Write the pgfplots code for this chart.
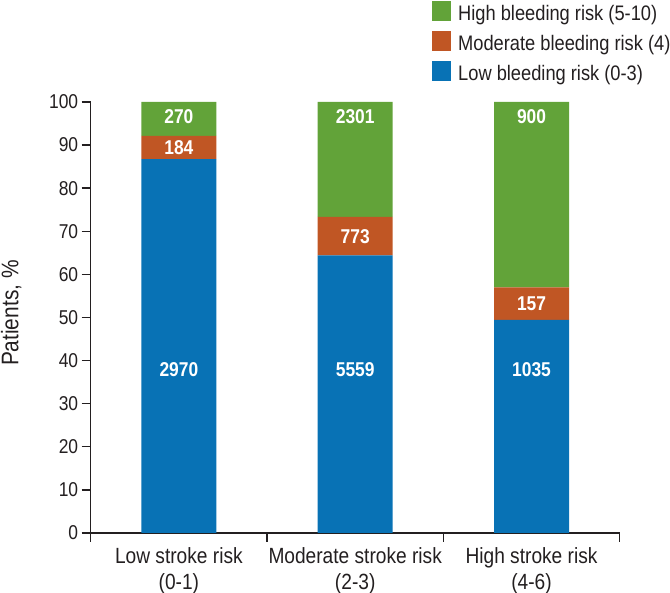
\documentclass[border=0pt]{standalone}
\usepackage{fontspec}
\setmainfont{Liberation Sans}[FakeStretch=0.87]
\usepackage{pgfplots}
\pgfplotsset{compat=1.18}
\definecolor{cgreen}{RGB}{98,163,57}
\definecolor{corange}{RGB}{192,86,36}
\definecolor{cblue}{RGB}{8,114,181}
\definecolor{ctext}{RGB}{35,31,32}
\begin{document}
\begin{tikzpicture}[x=1pt,y=1pt]
\useasboundingbox (-90.7,-60) rectangle (579.3,533);
\begin{axis}[
  at={(0,0)}, anchor=south west,
  width=529pt, height=431pt, scale only axis,
  ybar stacked, bar width=75pt,
  xmin=-0.5, xmax=2.5, ymin=0, ymax=100,
  axis lines*=left,
  axis line style={ctext, line width=1.4pt},
  xtick={-0.5,0.5,1.5,2.5},
  x tick label as interval,
  xticklabels={{Low stroke risk\\(0-1)},{Moderate stroke risk\\(2-3)},{High stroke risk\\(4-6)}},
  xticklabel style={align=center, font=\fontsize{22}{26}\selectfont, text=ctext, yshift=-2pt},
  ytick={0,10,...,100},
  major tick length=9pt,
  tick align=outside,
  tick style={ctext, line width=1.4pt},
  yticklabel style={font=\fontsize{20}{22}\selectfont, text=ctext},
  /pgf/number format/assume math mode=true,
  ylabel={Patients, \%},
  ylabel style={font=\fontsize{24}{26}\selectfont, text=ctext, at={(axis description cs:-0.1365,0.510)}, anchor=base},
  reverse legend,
  legend cell align=left,
  legend image code/.code={\fill[#1] (0pt,-7.5pt) rectangle (19.5pt,12pt);},
  legend style={at={(axis description cs:0.6446,1.2332)}, anchor=north west, draw=none, fill=none,
    inner sep=0pt, outer sep=0pt, font=\fontsize{21}{25}\selectfont, text=ctext,
    row sep=9.5pt, column sep=7pt, nodes={inner sep=0pt}},
  clip=false,
]
% percentages from counts: Low (2970,184,270), Moderate (5559,773,2301), High (1035,157,900)
\addplot[fill=cblue, draw=none] coordinates {(0,86.741) (1,64.393) (2,49.474)};
\addlegendentry{Low bleeding risk (0-3)}
\addplot[fill=corange, draw=none] coordinates {(0,5.374) (1,8.954) (2,7.505)};
\addlegendentry{Moderate bleeding risk (4)}
\addplot[fill=cgreen, draw=none] coordinates {(0,7.886) (1,26.653) (2,43.021)};
\addlegendentry{High bleeding risk (5-10)}
\coordinate (b0) at (axis cs:0,38);
\coordinate (b1) at (axis cs:1,38);
\coordinate (b2) at (axis cs:2,38);
\coordinate (o0) at (axis cs:0,89.43);
\coordinate (o1) at (axis cs:1,68.87);
\coordinate (o2) at (axis cs:2,53.23);
\coordinate (g0) at (axis cs:0,96.5);
\coordinate (g1) at (axis cs:1,96.5);
\coordinate (g2) at (axis cs:2,96.5);
\end{axis}
\tikzset{lab/.style={text=white, font=\bfseries\fontsize{20}{22}\selectfont, anchor=center}}
\node[lab] at (b0) {2970};
\node[lab] at (b1) {5559};
\node[lab] at (b2) {1035};
\node[lab] at (o0) {184};
\node[lab] at (o1) {773};
\node[lab] at (o2) {157};
\node[lab] at (g0) {270};
\node[lab] at (g1) {2301};
\node[lab] at (g2) {900};
\end{tikzpicture}
\end{document}
